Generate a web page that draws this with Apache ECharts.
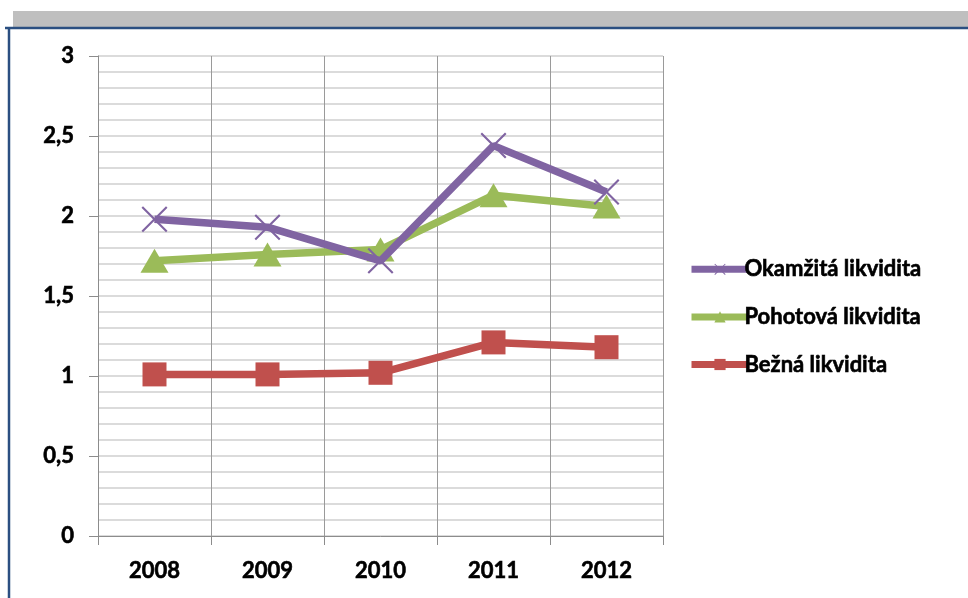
<!DOCTYPE html>
<html>
<head>
<meta charset="utf-8">
<script src="https://cdn.jsdelivr.net/npm/echarts@6/dist/echarts.min.js"></script>
<style>html,body{margin:0;padding:0;background:#fff;}#c{width:968px;height:598px;}</style>
</head>
<body>
<div id="c"></div>
<script>
var years = ['2008', '2009', '2010', '2011', '2012'];
var okamzita = [1.98, 1.93, 1.72, 2.44, 2.15];
var pohotova = [1.72, 1.76, 1.79, 2.13, 2.06];
var bezna = [1.01, 1.01, 1.02, 1.21, 1.18];
var seriesNames = ['Okamžitá likvidita', 'Pohotová likvidita', 'Bežná likvidita'];

var FONT = 'Lato';
var crossPath = 'path://M0,1.5L1.5,0L13,11.5L24.5,0L26,1.5L14.5,13L26,24.5L24.5,26L13,14.5L1.5,26L0,24.5L11.5,13Z';
var txt = {fontFamily: FONT, fontWeight: 'bold', fontSize: 22, color: '#000', textBorderColor: '#000', textBorderWidth: 0.6};

var chart = echarts.init(document.getElementById('c'), null, {renderer: 'canvas'});
chart.setOption({
  animation: false,
  backgroundColor: '#ffffff',
  graphic: [
    {type: 'rect', shape: {x: 13, y: 11, width: 960, height: 16}, style: {fill: '#BFBFBF'}, silent: true},
    {type: 'line', shape: {x1: 5, y1: 28, x2: 968, y2: 28}, style: {stroke: '#2B4F81', lineWidth: 2.5}, silent: true},
    {type: 'line', shape: {x1: 9, y1: 28, x2: 9, y2: 598}, style: {stroke: '#2B4F81', lineWidth: 2.5}, silent: true}
  ],
  grid: {left: 98, right: 305, top: 56, bottom: 62, containLabel: false},
  legend: {
    orient: 'vertical',
    left: 683,
    top: 253,
    itemWidth: 57,
    itemHeight: 14,
    itemGap: 25,
    data: seriesNames,
    lineStyle: {width: 7},
    textStyle: Object.assign({}, txt, {padding: [0, 0, 0, -9]})
  },
  xAxis: {
    type: 'category',
    data: years,
    boundaryGap: true,
    axisLine: {show: true, lineStyle: {color: '#8C8C8C', width: 1}},
    axisTick: {show: true, length: 9, inside: false, lineStyle: {color: '#8C8C8C'}},
    splitLine: {show: true, lineStyle: {color: '#9A9A9A', width: 1}},
    axisLabel: Object.assign({margin: 24}, txt)
  },
  yAxis: {
    type: 'value',
    min: 0,
    max: 3,
    interval: 0.5,
    axisLine: {show: true, lineStyle: {color: '#8C8C8C', width: 1}},
    axisTick: {show: true, length: 9, lineStyle: {color: '#8C8C8C'}},
    splitLine: {show: true, lineStyle: {color: '#CFCFCF', width: 1.5}},
    minorTick: {show: false, splitNumber: 5},
    minorSplitLine: {show: true, lineStyle: {color: '#CFCFCF', width: 1.5}},
    axisLabel: Object.assign({
      margin: 24,
      formatter: function (v) { return String(v).replace('.', ','); }
    }, txt)
  },
  series: [
    {
      name: seriesNames[0], type: 'line', data: okamzita, z: 4,
      symbol: crossPath, symbolSize: 26,
      lineStyle: {color: '#8064A2', width: 7.5},
      itemStyle: {color: '#8064A2'}
    },
    {
      name: seriesNames[1], type: 'line', data: pohotova, z: 3,
      symbol: 'triangle', symbolSize: [28, 24],
      lineStyle: {color: '#9BBB59', width: 7.5},
      itemStyle: {color: '#9BBB59'}
    },
    {
      name: seriesNames[2], type: 'line', data: bezna, z: 2,
      symbol: 'rect', symbolSize: 24,
      lineStyle: {color: '#C0504D', width: 7.5},
      itemStyle: {color: '#C0504D'}
    }
  ]
});
</script>
</body>
</html>
